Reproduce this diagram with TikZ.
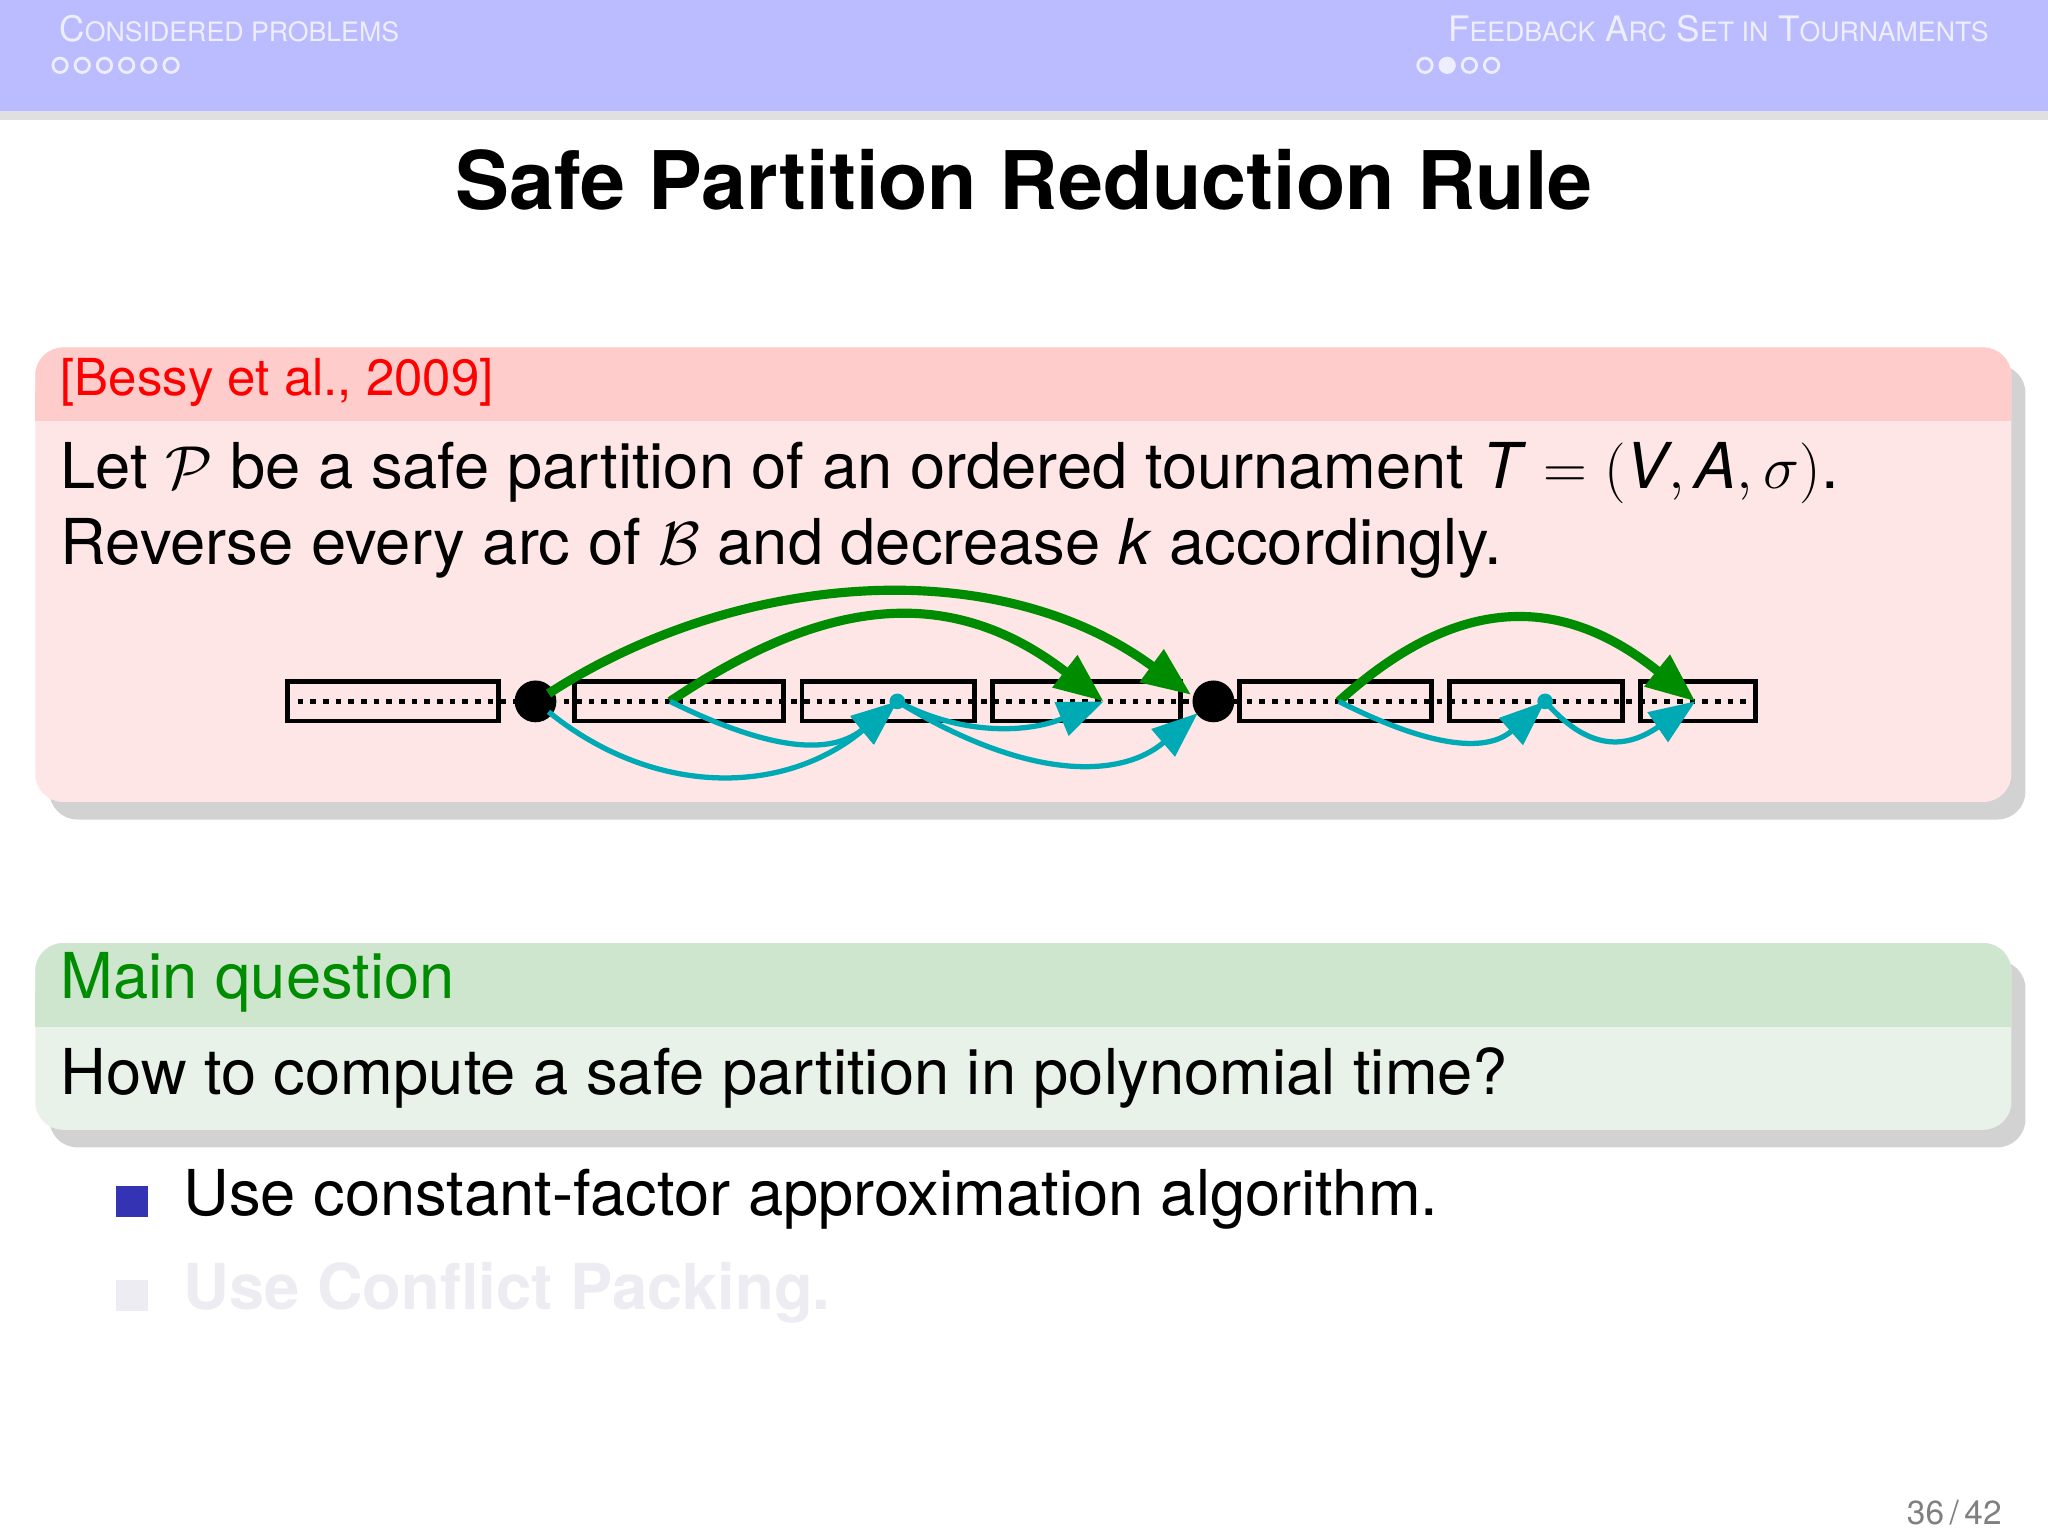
\documentclass[tikz,border=0pt]{standalone}
\usepackage{amsmath}
\usepackage{fontspec}
\setmainfont{TeX Gyre Heros}
\usepackage{tikz}
\usetikzlibrary{shadows,arrows.meta}
\definecolor{head}{RGB}{187,187,255}
\definecolor{headtxt}{RGB}{238,238,255}
\definecolor{redtop}{RGB}{255,204,204}
\definecolor{redbody}{RGB}{255,230,230}
\definecolor{grntop}{RGB}{206,230,206}
\definecolor{grnbody}{RGB}{232,242,232}
\definecolor{arcgreen}{RGB}{0,140,0}
\definecolor{arccyan}{RGB}{0,170,180}
\definecolor{bullet}{RGB}{51,51,179}
\definecolor{faded}{RGB}{236,236,242}
\newcommand\smc[1]{{\fontsize{7.6}{9}\selectfont\MakeUppercase{#1}}}
\tikzset{
  part/.style={draw, line width=1.4pt},
  green arc/.style={arcgreen, line width=2.6pt, -{Triangle[length=14pt,width=11pt]}},
  cyan arc/.style={arccyan, line width=1.5pt, -{Triangle[length=13pt,width=10pt]}},
  blk/.style={rounded corners=8pt, drop shadow={shadow xshift=4pt, shadow yshift=-5pt, opacity=0.35}},
}
\begin{document}
\begin{tikzpicture}[x=0.013061cm, y=-0.013061cm]
\useasboundingbox (0,0) rectangle (1568,1176);
\fill[white] (0,0) rectangle (1568,1176);
% header bar
\fill[black!12] (0,85) rectangle (1568,92);
\fill[head] (0,0) rectangle (1568,85);
\node[anchor=west, text=headtxt, font=\fontsize{10}{12}\selectfont] (lefthead) at (36,22) {C\smc{onsidered problems}};
\node[anchor=east, text=headtxt, font=\fontsize{10}{12}\selectfont] (righthead) at (1532,22) {F\smc{eedback} A\smc{rc} S\smc{et in} T\smc{ournaments}};
\foreach \i in {0,...,5}
  \draw[headtxt, line width=0.8pt] (46+\i*17,50) circle (5.5);
\foreach \i in {0,...,3}
  \draw[headtxt, line width=0.8pt] (1091+\i*17,50) circle (5.5);
\fill[headtxt] (1108,50) circle (5.5);
% title
\node[font=\fontsize{23}{28}\selectfont\bfseries] (title) at (784,138) {Safe Partition Reduction Rule};
% first block
\fill[blk, redbody] (27,266) rectangle (1540,614);
\fill[redtop, rounded corners=8pt] (27,266) rectangle (1540,322);
\fill[redtop] (27,300) rectangle (1540,322);
\node[anchor=west, red, font=\fontsize{14.5}{17}\selectfont] (cite) at (37,293) {[Bessy et al., 2009]};
\node[anchor=west, font=\fontsize{18}{22}\selectfont] (line1) at (37,362)
  {Let $\mathcal{P}$ be a safe partition of an ordered tournament \textit{T} $=(\textit{V},\textit{A},\sigma)$.};
\node[anchor=west, font=\fontsize{18}{22}\selectfont] (line2) at (37,420)
  {Reverse every arc of $\mathcal{B}$ and decrease \textit{k} accordingly.};
% parts
\draw[dotted, line width=1.6pt] (228,537) -- (1342,537);
\foreach \a/\b in {220/382, 440/600, 614/746, 760/904, 949/1096, 1110/1242, 1256/1344}
  \draw[part] (\a,522) rectangle (\b,552);
\fill (410,537) circle (16) coordinate (u);
\fill (929,537) circle (16) coordinate (w);
\fill[arccyan] (687,537) circle (6) coordinate (c1);
\fill[arccyan] (1183,537) circle (6) coordinate (c2);
\coordinate (g1) at (513,537);
\coordinate (g2) at (845,537);
\coordinate (g3) at (1025,537);
\coordinate (g4) at (1298,537);
% arcs
\draw[green arc] (u.center) ++(10,-6) .. controls (560,440) and (760,420) .. (912,532);
\draw[green arc] (g1) .. controls (620,465) and (720,440) .. (g2);
\draw[green arc] (g3) .. controls (1110,460) and (1190,450) .. (g4);
\draw[cyan arc] (u.center) ++(10,8) .. controls (500,610) and (600,610) .. (c1);
\draw[cyan arc] (g1) .. controls (600,580) and (640,575) .. (c1);
\draw[cyan arc] (c1) .. controls (740,565) and (790,560) .. (g2);
\draw[cyan arc] (c1) .. controls (790,600) and (860,595) .. (917,546);
\draw[cyan arc] (g3) .. controls (1100,575) and (1140,575) .. (c2);
\draw[cyan arc] (c2) .. controls (1220,580) and (1250,570) .. (g4);
% second block
\fill[blk, grnbody] (27,722) rectangle (1540,865);
\fill[grntop, rounded corners=8pt] (27,722) rectangle (1540,786);
\fill[grntop] (27,760) rectangle (1540,786);
\node[anchor=west, arcgreen, font=\fontsize{18}{22}\selectfont] (qhead) at (37,752) {Main question};
\node[anchor=west, font=\fontsize{18}{22}\selectfont] (qtext) at (37,825) {How to compute a safe partition in polynomial time?};
% bullets
\fill[bullet] (89,908) rectangle (113,932);
\node[anchor=west, font=\fontsize{18}{22}\selectfont] (item1) at (131,918) {Use constant-factor approximation algorithm.};
\fill[faded] (89,980) rectangle (113,1004);
\node[anchor=west, text=faded, font=\fontsize{18}{22}\selectfont\bfseries] (item2) at (131,990) {Use Conflict Packing.};
% page number
\node[anchor=east, gray, font=\fontsize{9.5}{11}\selectfont] (page) at (1542,1158) {36\,/\,42};
\end{tikzpicture}
\end{document}
